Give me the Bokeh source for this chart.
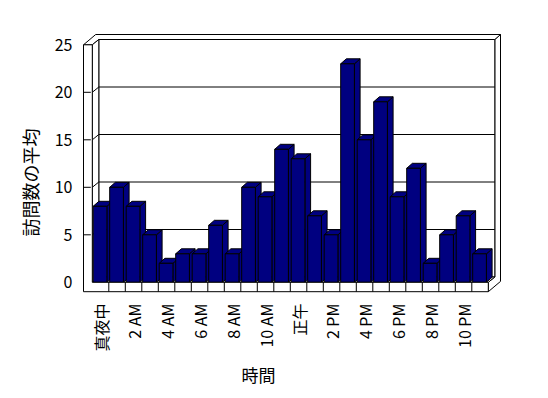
import math
from bokeh.plotting import figure
from bokeh.models import Range1d, FixedTicker, Title
from bokeh.embed import file_html
from bokeh.resources import INLINE

# ---------------- data ----------------
categories = list(range(24))
visits = [8, 10, 8, 5, 2, 3, 3, 6, 3, 10, 9, 14, 13, 7, 5, 23, 15, 19, 9, 12, 2, 5, 7, 3]
tick_positions = [0, 2, 4, 6, 8, 10, 12, 14, 16, 18, 20, 22]
tick_labels = ["真夜中", "2 AM", "4 AM", "6 AM", "8 AM", "10 AM",
               "正午", "2 PM", "4 PM", "6 PM", "8 PM", "10 PM"]
y_ticks = [0, 5, 10, 15, 20, 25]
y_title = "訪問数の平均"
x_title = "時間"

# ---------------- layout constants (pixels) ----------------
PX_CAT = 16.5      # pixels per category
PX_VAL = 9.5       # pixels per value unit
FONT = "Noto Sans CJK JP"

D1X, D1Y = 6.5 / PX_CAT, 5.3 / PX_VAL     # front plane -> back wall face
D2X, D2Y = 5.7 / PX_CAT, 5.0 / PX_VAL     # back wall thickness
BX, BY = 5.7 / PX_CAT, 5.0 / PX_VAL       # bar depth
X0 = -0.5
X1 = len(categories) - 0.5
XL = X0 - 8.8 / PX_CAT                    # left wall outer edge
YB = -9.4 / PX_VAL                        # floor bottom
YT = max(y_ticks)

FRAME_L, FRAME_T = 82, 33
FRAME_W, FRAME_H = 421, 260
x_start = XL - 1.0 / PX_CAT
y_end = YT + D1Y + D2Y + 1.0 / PX_VAL

p = figure(width=548, height=398, output_backend="svg", toolbar_location=None,
           x_range=Range1d(x_start, x_start + FRAME_W / PX_CAT),
           y_range=Range1d(y_end - FRAME_H / PX_VAL, y_end),
           min_border_left=FRAME_L, min_border_top=FRAME_T,
           min_border_right=548 - FRAME_L - FRAME_W,
           min_border_bottom=398 - FRAME_T - FRAME_H)
p.outline_line_color = None
p.xgrid.visible = False
p.ygrid.visible = False
p.background_fill_color = "white"
p.border_fill_color = "white"

LC = "black"

# right side faces (floor + back wall)
rx = [X1, X1, X1 + D1X, X1 + D1X, X1 + D1X + D2X, X1 + D1X + D2X]
ry = [YB, 0, D1Y, YT + D1Y, YT + D1Y + D2Y, YB + D1Y + D2Y]
# top faces (left wall + back wall)
tx = [XL, X0, X0 + D1X, X1 + D1X, X1 + D1X + D2X, XL + D1X + D2X]
ty = [YT, YT, YT + D1Y, YT + D1Y, YT + D1Y + D2Y, YT + D1Y + D2Y]
p.patches([rx, tx], [ry, ty], fill_color="white", line_color=LC, line_width=1)

# back wall inner face
p.quad(left=[X0 + D1X], right=[X1 + D1X], bottom=[D1Y], top=[YT + D1Y],
       fill_color="white", line_color=LC, line_width=1)
# floor top + left wall inner face
fx = [X0, X1, X1 + D1X, X0 + D1X]
fy = [0, 0, D1Y, D1Y]
lx = [X0, X0, X0 + D1X, X0 + D1X]
ly = [0, YT, YT + D1Y, D1Y]
p.patches([fx, lx], [fy, ly], fill_color="white", line_color=LC, line_width=1)

# gridlines on side + back wall
gxs, gys = [], []
for v in y_ticks[1:-1]:
    gxs.append([X0, X0 + D1X, X1 + D1X])
    gys.append([v, v + D1Y, v + D1Y])
p.multi_line(gxs, gys, line_color=LC, line_width=1)

# bars
lefts = [c - 0.5 + 0.9 / PX_CAT for c in categories]
rights = [l + 13.7 / PX_CAT for l in lefts]
side_xs, side_ys, top_xs, top_ys = [], [], [], []
for l, r, v in zip(lefts, rights, visits):
    side_xs.append([r, r, r + BX, r + BX])
    side_ys.append([0, v, v + BY, BY])
    top_xs.append([l, r, r + BX, l + BX])
    top_ys.append([v, v, v + BY, v + BY])
BAR = "#000080"
p.patches(side_xs, side_ys, fill_color=BAR, line_color=LC, line_width=1)
p.patches(top_xs, top_ys, fill_color=BAR, line_color=LC, line_width=1)
p.quad(left=lefts, right=rights, bottom=0, top=visits,
       fill_color=BAR, line_color=LC, line_width=1)

# front L-shaped face (left wall + floor)
Lx = [XL, X1, X1, X0, X0, XL]
Ly = [YB, YB, 0, 0, YT, YT]
p.patch(Lx, Ly, fill_color="white", line_color=LC, line_width=1)
# floor ticks and wall ticks
txs = [[c + 0.5, c + 0.5] for c in categories[:-1]]
tys = [[YB, 0] for _ in categories[:-1]]
for v in y_ticks[1:-1]:
    txs.append([XL, X0 - 1.5 / PX_CAT])
    tys.append([v, v])
p.multi_line(txs, tys, line_color=LC, line_width=1)

# axes
for ax in (p.xaxis[0], p.yaxis[0]):
    ax.axis_line_color = None
    ax.major_tick_line_color = None
    ax.minor_tick_line_color = None
    ax.major_tick_in = 0
    ax.major_tick_out = 0
    ax.major_label_text_font = FONT
    ax.major_label_text_font_size = "16px"
    ax.major_label_text_color = "black"

p.xaxis.ticker = FixedTicker(ticks=tick_positions)
p.xaxis.major_label_overrides = {t: s for t, s in zip(tick_positions, tick_labels)}
p.xaxis.major_label_orientation = math.pi / 2
p.xaxis.major_label_standoff = 10
p.yaxis.ticker = FixedTicker(ticks=y_ticks)
p.yaxis.major_label_standoff = 10

# axis titles
p.add_layout(Title(text=x_title, align="left", offset=159, standoff=10,
                   text_font=FONT, text_font_size="17px", text_font_style="normal",
                   text_color="black"), "below")
p.add_layout(Title(text=y_title, align="left", offset=57, standoff=17,
                   text_font=FONT, text_font_size="18px", text_font_style="normal",
                   text_color="black"), "left")

open("out.html", "w").write(file_html(p, INLINE))
